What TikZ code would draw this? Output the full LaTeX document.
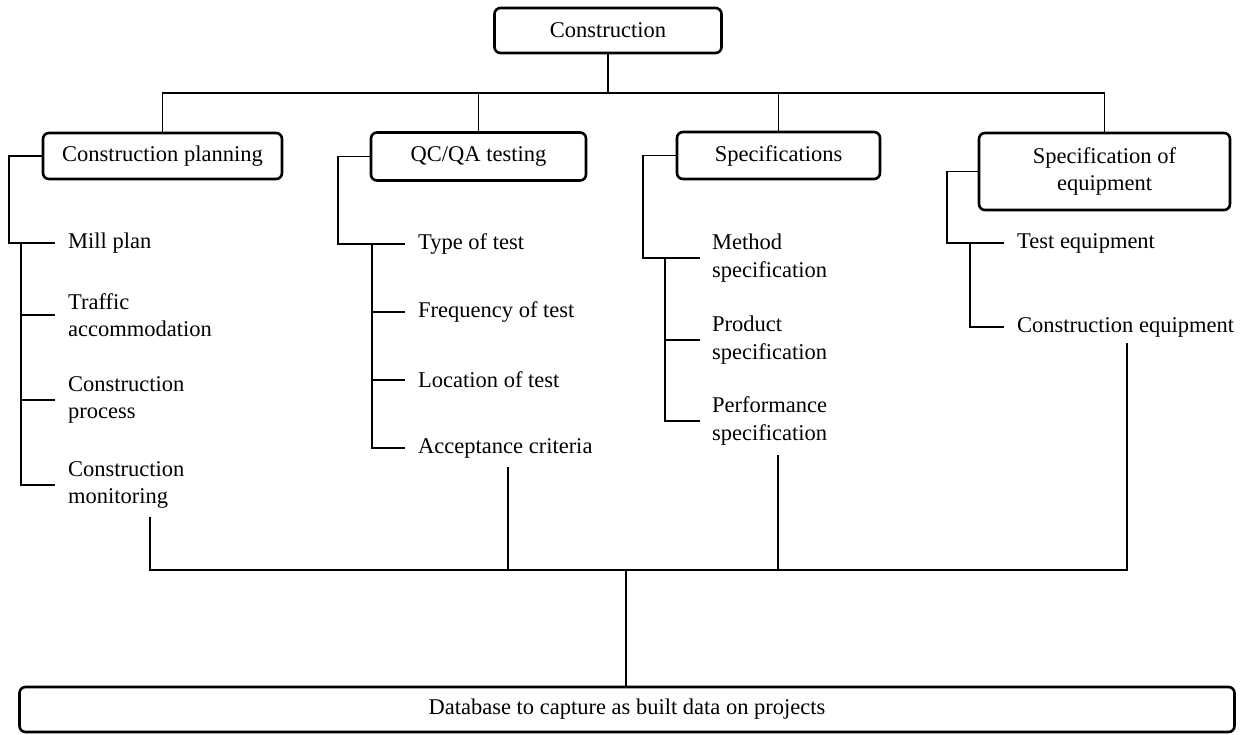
\documentclass[tikz,border=0pt]{standalone}
\usepackage{fontspec}
\setmainfont{Liberation Serif}
\begin{document}
\begin{tikzpicture}[x=1pt,y=-1pt,
  box/.style={draw, line width=2.6pt, rounded corners=6pt, align=center, inner sep=0pt,
    font=\fontsize{22.5}{27}\selectfont},
  item/.style={anchor=west, align=left, inner sep=0pt, font=\fontsize{22.5}{27.5}\selectfont},
  conn/.style={line width=1.3pt}]
\useasboundingbox (0,0) rectangle (1247,734);
% boxes
\node[box, minimum width=227pt, minimum height=45pt] (top) at (608,30.5) {Construction};
\node[box, minimum width=239pt, minimum height=46pt] (cp) at (162.5,156) {Construction planning};
\node[box, minimum width=215pt, minimum height=48pt] (qc) at (478.5,156.5) {QC/QA testing};
\node[box, minimum width=203pt, minimum height=47pt] (sp) at (778.5,155.5) {Specifications};
\node[box, minimum width=251pt, minimum height=77pt] (se) at (1104.5,171.5) {Specification of\\equipment};
\node[box, minimum width=1215pt, minimum height=45pt] (db) at (627,709.5) {Database to capture as built data on projects};
% items: construction planning
\node[item] (mill) at (68,243) {Mill plan};
\node[item] (traffic) at (68,315) {Traffic\\accommodation};
\node[item] (process) at (68,400) {Construction\\process};
\node[item] (monit) at (68,485) {Construction\\monitoring};
% items: QC/QA
\node[item] (type) at (418,244) {Type of test};
\node[item] (freq) at (418,312) {Frequency of test};
\node[item] (loc) at (418,380) {Location of test};
\node[item] (acc) at (418,448) {Acceptance criteria};
% items: specifications
\node[item] (meth) at (712,258) {Method\\specification};
\node[item] (prod) at (712,340) {Product\\specification};
\node[item] (perf) at (712,421) {Performance\\specification};
% items: equipment
\node[item] (teq) at (1017,243) {Test equipment};
\node[item] (ceq) at (1017,327) {Construction equipment};
% coordinates
\coordinate (tb) at (608,93);
\coordinate (hub) at (626,570);
\coordinate (d1) at (150,517);
\coordinate (d2) at (508,467);
\coordinate (d3) at (778,455);
\coordinate (d4) at (1127,343);
% top tree
\draw[conn] (top.south) -- (tb);
\draw[conn] (cp.north) |- (tb) -| (se.north);
\draw[conn] (qc.north) -- (qc.north |- tb);
\draw[conn] (sp.north) -- (sp.north |- tb);
% construction planning branches
\draw[conn] (cp.west) -| ([xshift=-59pt]mill.west) -- ([xshift=-13pt]mill.west);
\draw[conn] ([xshift=-47pt]mill.west) |- ([xshift=-13pt]monit.west);
\draw[conn] ([xshift=-47pt]traffic.west) -- ([xshift=-13pt]traffic.west);
\draw[conn] ([xshift=-47pt]process.west) -- ([xshift=-13pt]process.west);
% QC/QA branches
\draw[conn] (qc.west) -| ([xshift=-80pt]type.west) -- ([xshift=-13pt]type.west);
\draw[conn] ([xshift=-46pt]type.west) |- ([xshift=-13pt]acc.west);
\draw[conn] ([xshift=-46pt]freq.west) -- ([xshift=-13pt]freq.west);
\draw[conn] ([xshift=-46pt]loc.west) -- ([xshift=-13pt]loc.west);
% specifications branches
\draw[conn] (sp.west) -| ([xshift=-69pt]meth.west) -- ([xshift=-12pt]meth.west);
\draw[conn] ([xshift=-47pt]meth.west) |- ([xshift=-12pt]perf.west);
\draw[conn] ([xshift=-47pt]prod.west) -- ([xshift=-12pt]prod.west);
% equipment branches
\draw[conn] (se.west) -| ([xshift=-70pt]teq.west) -- ([xshift=-13pt]teq.west);
\draw[conn] ([xshift=-47pt]teq.west) |- ([xshift=-13pt]ceq.west);
% bottom bus
\draw[conn] (d1) |- (hub);
\draw[conn] (d4) |- (hub);
\draw[conn] (d2) -- (d2 |- hub);
\draw[conn] (d3) -- (d3 |- hub);
\draw[conn] (hub) -- (hub |- db.north);
\end{tikzpicture}
\end{document}
